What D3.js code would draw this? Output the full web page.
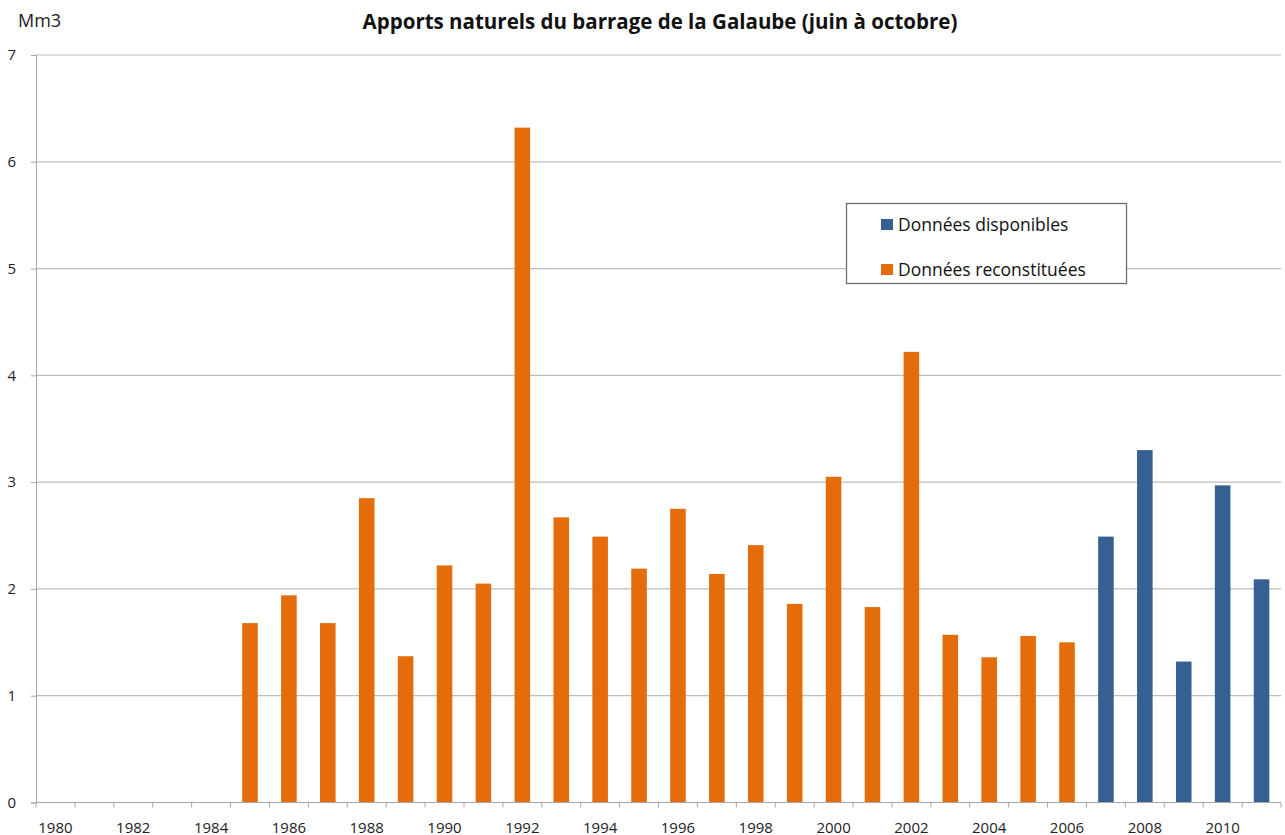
<!DOCTYPE html>
<html><head><meta charset="utf-8">
<script src="https://cdn.jsdelivr.net/npm/d3@7"></script>
<style>body{margin:0;background:#fff}svg{display:block}text{font-family:"Open Sans",sans-serif}</style>
</head><body><svg id="c" width="1285" height="835"></svg>
<script>
const years = d3.range(1980, 2012);
const reconstYears = [1985,1986,1987,1988,1989,1990,1991,1992,1993,1994,1995,1996,1997,1998,1999,2000,2001,2002,2003,2004,2005,2006];
const reconstValues = [1.68,1.94,1.68,2.85,1.37,2.22,2.05,6.32,2.67,2.49,2.19,2.75,2.14,2.41,1.86,3.05,1.83,4.22,1.57,1.36,1.56,1.50];
const dispoYears = [2007,2008,2009,2010,2011];
const dispoValues = [2.49,3.30,1.32,2.97,2.09];
const yTicks = [0,1,2,3,4,5,6,7];
const xLabels = d3.range(1980, 2012, 2);

const svg = d3.select("#c");
const m = {l:36, r:1281, t:55, b:802.5};
const x = d3.scaleBand().domain(years).range([m.l, m.r]).paddingInner(0.6).paddingOuter(0.3);
const y = d3.scaleLinear().domain([0,7]).range([m.b, m.t]);

// grid
svg.append("g").selectAll("line").data(yTicks.filter(d=>d>0)).join("line")
  .attr("x1", m.l).attr("x2", m.r).attr("y1", d=>y(d)).attr("y2", d=>y(d))
  .attr("stroke", "#bdbdbd").attr("stroke-width", 1.2);

// bars
const series = [
  {years: reconstYears, values: reconstValues, color: "#e46c0a"},
  {years: dispoYears, values: dispoValues, color: "#376092"}
];
series.forEach(s => {
  svg.append("g").selectAll("rect").data(s.years.map((yr,i)=>({yr, v:s.values[i]}))).join("rect")
    .attr("x", d=>x(d.yr)).attr("width", x.bandwidth())
    .attr("y", d=>y(d.v)).attr("height", d=>y(0)-y(d.v))
    .attr("fill", s.color);
});

// y axis
const yAxis = svg.append("g").attr("transform", `translate(${m.l},0)`)
  .call(d3.axisLeft(y).tickValues(yTicks).tickSize(5).tickPadding(15).tickFormat(d3.format("d")));
yAxis.select(".domain").attr("stroke", "#a6a6a6");
yAxis.selectAll(".tick line").attr("stroke", "#a6a6a6");
yAxis.selectAll("text").attr("font-size", 15).attr("fill", "#222").attr("font-family", "Open Sans");

// x axis
const step = x.step();
const xg = svg.append("g").attr("transform", `translate(0,${m.b})`);
xg.append("line").attr("x1", m.l).attr("x2", m.r).attr("stroke", "#a6a6a6").attr("stroke-width", 1.2);
const bounds = years.map(yr => x(yr) - (step - x.bandwidth())/2).concat([m.r]);
xg.selectAll("line.tk").data(bounds).join("line").attr("class","tk")
  .attr("x1", d=>d).attr("x2", d=>d).attr("y1", 0).attr("y2", 5).attr("stroke", "#a6a6a6");
xg.selectAll("text").data(xLabels).join("text")
  .attr("x", d=>x(d)+x.bandwidth()/2).attr("y", 30).attr("text-anchor","middle")
  .attr("font-size", 15).attr("fill", "#222").text(d=>d);

// title & unit
svg.append("text").attr("x", 660).attr("y", 29).attr("text-anchor","middle")
  .attr("font-size", 20.5).attr("font-weight", "bold").attr("fill","#111")
  .text("Apports naturels du barrage de la Galaube (juin à octobre)");
svg.append("text").attr("x", 18).attr("y", 27).attr("font-size", 18).attr("fill","#222").text("Mm3");

// legend
const lg = svg.append("g");
lg.append("rect").attr("x", 846.5).attr("y", 203.5).attr("width", 280).attr("height", 80)
  .attr("fill","#fff").attr("stroke","#6e6e6e").attr("stroke-width",1.3);
const legendItems = [{label:"Données disponibles", color:"#376092"},{label:"Données reconstituées", color:"#e46c0a"}];
legendItems.forEach((it,i)=>{
  lg.append("rect").attr("x", 881).attr("y", 219+i*45).attr("width", 12).attr("height", 11).attr("fill", it.color);
  lg.append("text").attr("x", 898).attr("y", 231+i*45).attr("font-size", 17.5).attr("fill","#111").text(it.label);
});
</script></body></html>
